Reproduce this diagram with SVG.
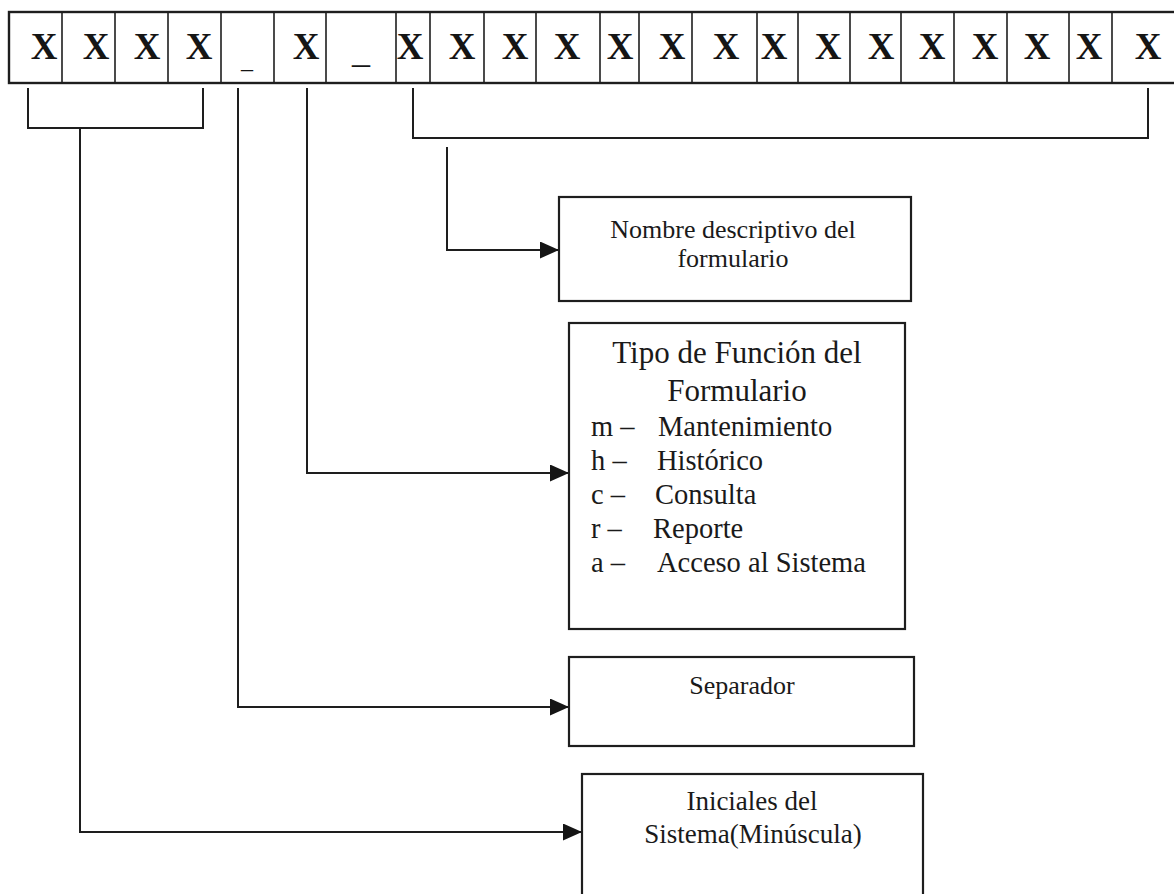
<svg xmlns="http://www.w3.org/2000/svg" width="1174" height="894" viewBox="0 0 1174 894">
<style>
.bg{fill:#ffffff}
.cell{fill:none;stroke:#1e1e1e;stroke-width:1.6}
.row{fill:#ffffff;stroke:#1e1e1e;stroke-width:2.4}
.box{fill:#ffffff;stroke:#1e1e1e;stroke-width:2.2}
.x{font-family:"Liberation Serif","Times New Roman",serif;font-weight:bold;font-size:37px;fill:#151515;text-anchor:middle}
.us{font-family:"Liberation Serif","Times New Roman",serif;fill:#151515;text-anchor:middle}
.t{font-family:"Liberation Serif","Times New Roman",serif;fill:#1a1a1a}
.c{text-anchor:middle}
.conn{fill:none;stroke:#1e1e1e;stroke-width:2}
</style>
<defs>
<marker id="arr" viewBox="0 0 19 17" refX="19" refY="8.5" markerWidth="19" markerHeight="17" markerUnits="userSpaceOnUse" orient="auto">
<path d="M0,0 L19,8.5 L0,17 Z" fill="#151515"/>
</marker>
</defs>
<rect class="bg" x="0" y="0" width="1174" height="894"/>

<g id="field-row">
<rect class="row" x="9" y="12" width="1180" height="71"/>
<path class="cell" d="M62,12V83M115,12V83M168,12V83M221,12V83M274,12V83M326,12V83M396,12V83M430,12V83M484,12V83M536,12V83M600,12V83M639,12V83M692,12V83M757,12V83M798,12V83M850,12V83M901,12V83M954,12V83M1007,12V83M1069,12V83M1112,12V83"/>
<text class="x" x="44" y="59">X</text>
<text class="x" x="96" y="59">X</text>
<text class="x" x="147" y="59">X</text>
<text class="x" x="199" y="59">X</text>
<text class="us" x="247" y="68" font-size="24">_</text>
<text class="x" x="306" y="59">X</text>
<text class="us" x="361" y="62" font-size="36">_</text>
<text class="x" x="410" y="59">X</text>
<text class="x" x="462" y="59">X</text>
<text class="x" x="515" y="59">X</text>
<text class="x" x="567" y="59">X</text>
<text class="x" x="620" y="59">X</text>
<text class="x" x="672" y="59">X</text>
<text class="x" x="726" y="59">X</text>
<text class="x" x="774" y="59">X</text>
<text class="x" x="828" y="59">X</text>
<text class="x" x="881" y="59">X</text>
<text class="x" x="932" y="59">X</text>
<text class="x" x="985" y="59">X</text>
<text class="x" x="1037" y="59">X</text>
<text class="x" x="1089" y="59">X</text>
<text class="x" x="1148" y="59">X</text>
</g>

<g id="connectors">
<path class="conn" d="M28,88V128H203V88"/>
<path class="conn" d="M80,128V832H582" marker-end="url(#arr)"/>
<path class="conn" d="M238,88V707H569" marker-end="url(#arr)"/>
<path class="conn" d="M307,88V473H569" marker-end="url(#arr)"/>
<path class="conn" d="M413,88V138H1148V88"/>
<path class="conn" d="M447,147V250H559" marker-end="url(#arr)"/>
</g>

<g id="node-nombre">
<rect class="box" x="559" y="197" width="352" height="104"/>
<text class="t c" x="733" y="238" font-size="26">Nombre descriptivo del</text>
<text class="t c" x="733" y="267" font-size="26">formulario</text>
</g>

<g id="node-tipo">
<rect class="box" x="569" y="323" width="336" height="306"/>
<text class="t c" x="737" y="363" font-size="31">Tipo de Función del</text>
<text class="t c" x="737" y="401" font-size="31">Formulario</text>
<text class="t" font-size="28.5"><tspan x="591" y="436">m –</tspan><tspan x="658" y="436">Mantenimiento</tspan></text>
<text class="t" font-size="28.5"><tspan x="591" y="470">h –</tspan><tspan x="657" y="470">Histórico</tspan></text>
<text class="t" font-size="28.5"><tspan x="591" y="504">c –</tspan><tspan x="655" y="504">Consulta</tspan></text>
<text class="t" font-size="28.5"><tspan x="591" y="538">r –</tspan><tspan x="653" y="538">Reporte</tspan></text>
<text class="t" font-size="28.5"><tspan x="591" y="572">a –</tspan><tspan x="657" y="572">Acceso al Sistema</tspan></text>
</g>

<g id="node-separador">
<rect class="box" x="569" y="657" width="345" height="89"/>
<text class="t c" x="742" y="694" font-size="26">Separador</text>
</g>

<g id="node-iniciales">
<rect class="box" x="582" y="774" width="341" height="140"/>
<text class="t c" x="752" y="810" font-size="27">Iniciales del</text>
<text class="t c" x="753" y="843" font-size="27">Sistema(Minúscula)</text>
</g>
</svg>
